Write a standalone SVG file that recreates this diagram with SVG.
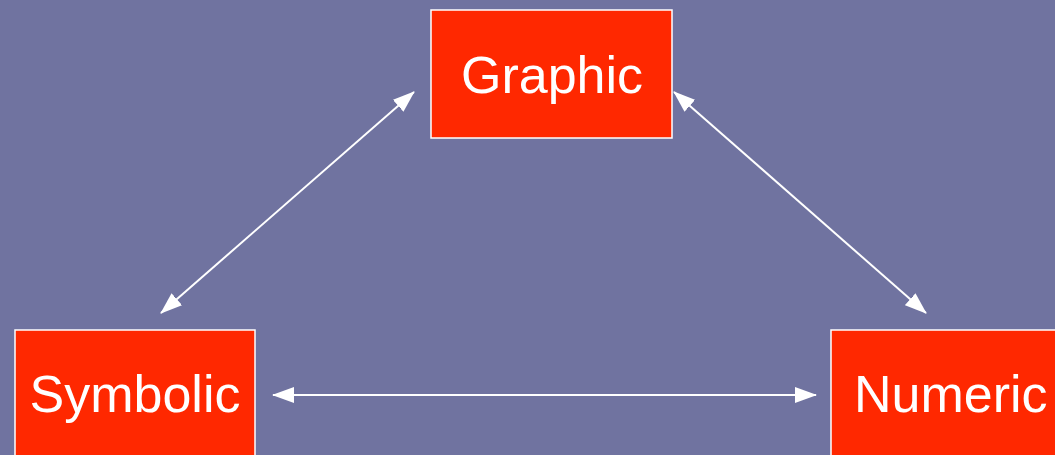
<svg xmlns="http://www.w3.org/2000/svg" width="1055" height="455" viewBox="0 0 1055 455">
<defs>
<style>
.box{fill:#FF2800;stroke:#FFFFFF;stroke-width:1.5}
.lbl{font-family:"Liberation Sans",Arial,sans-serif;font-size:52px;fill:#FFFFFF}
.conn{stroke:#FFFFFF;stroke-width:2;fill:none;marker-start:url(#ah);marker-end:url(#ah)}
</style>
<marker id="ah" viewBox="0 0 22 16" refX="21" refY="8" markerWidth="22" markerHeight="16" markerUnits="userSpaceOnUse" orient="auto-start-reverse">
<path d="M0,0 L22,8 L0,16 Z" fill="#FFFFFF"/>
</marker>
</defs>
<rect width="1055" height="455" fill="#7073A0"/>
<g id="connectors">
<line class="conn" x1="161" y1="313" x2="414" y2="92"/>
<line class="conn" x1="674" y1="92" x2="926" y2="313"/>
<line class="conn" x1="273" y1="395" x2="816" y2="395"/>
</g>
<g id="graphic">
<rect class="box" x="431" y="10" width="241" height="128"/>
<text class="lbl" x="552" y="93" text-anchor="middle">Graphic</text>
</g>
<g id="symbolic">
<rect class="box" x="15" y="330" width="240" height="140"/>
<text class="lbl" x="135" y="412" text-anchor="middle">Symbolic</text>
</g>
<g id="numeric">
<rect class="box" x="831" y="330" width="240" height="140"/>
<text class="lbl" x="854" y="412">Numeric</text>
</g>
</svg>
